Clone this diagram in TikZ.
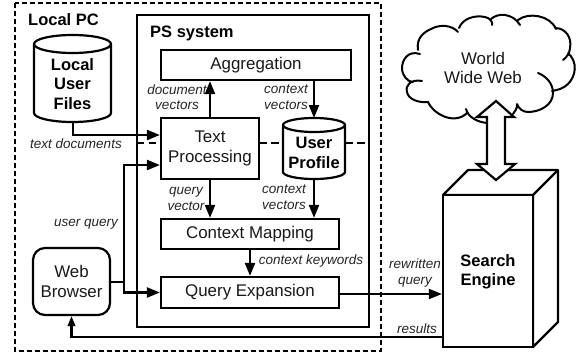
\documentclass[tikz,border=0pt]{standalone}
\usepackage{fontspec}
\setmainfont{Liberation Sans}
\usetikzlibrary{arrows.meta,calc}
\tikzset{
  x=1pt,y=-1pt,
  ln/.style={line width=2.2pt,line join=miter},
  blk/.style={ln,draw,fill=white,inner sep=0pt,align=center,text=black!90,font=\fontsize{16.9}{19.2}\selectfont},
  plain/.style={inner sep=0pt,align=center,text=black!90,font=\fontsize{16.9}{19.2}\selectfont},
  strong/.style={inner sep=0pt,align=center,font=\fontsize{16.5}{19.2}\selectfont\bfseries},
  lab/.style={inner sep=0pt,align=center,text=black!85,font=\fontsize{13.5}{15.6}\selectfont\itshape},
  arr/.style={ln,-{Triangle[length=13pt,width=10pt]}},
  arrs/.style={ln,-{Triangle[length=10pt,width=7.5pt]}},
  dsh/.style={ln,dash pattern=on 5pt off 3pt},
  dshs/.style={ln,dash pattern=on 7.5pt off 4.5pt},
}
\begin{document}
\begin{tikzpicture}
\useasboundingbox (0,0) rectangle (580,356);
\fill[white] (0,0) rectangle (580,356);
% containers
\draw[dsh] (15,3) rectangle (381,351);
\node[blk,draw,minimum width=232pt,minimum height=312pt] (ps) at (253,171) {};
\node[strong,anchor=west] (pctitle) at (28,20) {Local PC};
\node[strong,anchor=west] (pstitle) at (150,33) {PS system};
% boxes
\node[blk,minimum width=190pt,minimum height=30pt] (ag) at (256,65) {Aggregation};
\node[blk,minimum width=98pt,minimum height=61pt] (tp) at (210,148.5) {Text\\Processing};
\node[blk,minimum width=178pt,minimum height=30pt] (cm) at (250,234) {Context Mapping};
\node[blk,minimum width=178pt,minimum height=31pt] (qe) at (250,292.5) {Query Expansion};
\node[blk,rounded corners=12pt,minimum width=77pt,minimum height=67pt] (web) at (71.5,281.5) {Web\\Browser};
% local user files cylinder
\draw[ln,fill=white] (34,44) arc[start angle=180,end angle=0,x radius=38.5pt,y radius=9pt]
  -- (111,113) arc[start angle=0,end angle=-180,x radius=38.5pt,y radius=9pt] -- cycle;
\draw[ln] (34,44) arc[start angle=180,end angle=360,x radius=38.5pt,y radius=9pt];
\node[strong] (files) at (72.5,84) {Local\\User\\Files};
\coordinate (filesb) at (73,122);
% user profile cylinder
\draw[ln,fill=white] (283,125) arc[start angle=180,end angle=0,x radius=31pt,y radius=7pt]
  -- (345,172) arc[start angle=0,end angle=-180,x radius=31pt,y radius=7pt] -- cycle;
\draw[ln] (283,125) arc[start angle=180,end angle=360,x radius=31pt,y radius=7pt];
\node[strong] (prof) at (314,153) {User\\Profile};
\coordinate (proft) at (314,118);
\coordinate (profb) at (314,179);
\coordinate (profl) at (283,143);
\coordinate (profr) at (345,143);
% search engine
\draw[ln,line join=round,fill=white] (443,195) -- (468,170) -- (558,170) -- (558,322) -- (533,347) -- (533,195) -- cycle;
\node[blk,minimum width=90pt,minimum height=152pt] (se) at (488,271) {};
\node[strong] (setext) at (488,271.5) {Search\\Engine};
\draw[ln,line join=round] (533,195) -- (558,170);
% cloud
\draw[line width=2pt,line cap=round]
  (422,81) .. controls (411,79) and (405,85) .. (407,92) .. controls (408,99) and (418,103) .. (428,102)
  .. controls (434,115) and (455,125) .. (467,113)
  (466,109) .. controls (468,117) and (477,122) .. (487,123)
  (420,54) .. controls (408,50) and (402,60) .. (402,68) .. controls (402,76) and (408,82) .. (413,82)
  (418,50) .. controls (416,38) and (424,32) .. (431,29) .. controls (440,24) and (452,25) .. (458,32)
  (459,28) .. controls (463,18) and (475,15) .. (485,17) .. controls (490,18) and (493,22) .. (492,25)
  (490,20) .. controls (497,12) and (513,13) .. (520,25)
  (518,20) .. controls (528,12) and (550,15) .. (556,29)
  (555,28) .. controls (566,28) and (572,38) .. (570,48) .. controls (570,53) and (566,58) .. (563,60)
  (568,53) .. controls (578,62) and (576,76) .. (568,84) .. controls (563,89) and (557,90) .. (552,91)
  (538,73) .. controls (548,77) and (553,85) .. (553,93) .. controls (553,105) and (540,112) .. (528,112) .. controls (523,112) and (519,109) .. (517,104)
  (517,105) .. controls (517,109) and (515,111) .. (513,114);
\node[plain] (wwwtext) at (483,68) {World\\Wide Web};
% double arrow
\coordinate (dat) at (496,101);
\coordinate (dab) at (496,180);
\draw[ln,fill=white] (dat) -- (514,117) -- (505,117) -- (505,164) -- (515,164) -- (dab) -- (477,164) -- (487,164) -- (487,117) -- (477,117) -- cycle;
% connectors
\draw[arr] (filesb) |- ($(tp.west)+(0,-13.5)$);
\coordinate (j) at (124,282);
\draw[ln] (web.east |- j) -- (j);
\draw[arr] (j) |- ($(tp.west)+(0,16.5)$);
\draw[arr] (j) |- (qe.west);
\draw[arr] (tp.north) -- (tp.north |- ag.south);
\draw[arr] (ag.south -| proft) -- (proft);
\draw[arr] (tp.south) -- (tp.south |- cm.north);
\draw[arr] (profb) -- (profb |- cm.north);
\draw[arr] (cm.south) -- (qe.north);
\draw[arr,line width=1.8pt] (qe.east |- 0,294) -- (se.west |- 0,294);
\draw[arrs] (se.west |- 0,337) -| (web.south);
\draw[dshs] (ps.west |- tp.west) ++(1,-5.5) -- (161,143);
\draw[dshs] (259,143) -- (profl);
\draw[dshs] (profr) -- (369,143);
% labels
\node[lab] (l1) at (177,97) {document\\vectors};
\node[lab] (l2) at (286,97.5) {context\\vectors};
\node[lab] (l3) at (186,199) {query\\vector};
\node[lab] (l4) at (284,197) {context\\vectors};
\node[lab] (l5) at (311,261) {context keywords};
\node[lab] (l6) at (86,224) {user query};
\node[lab] (l7) at (76,144) {text documents};
\node[lab] (l8) at (415,273) {rewritten\\query};
\node[lab] (l9) at (417,329) {results};
\end{tikzpicture}
\end{document}
